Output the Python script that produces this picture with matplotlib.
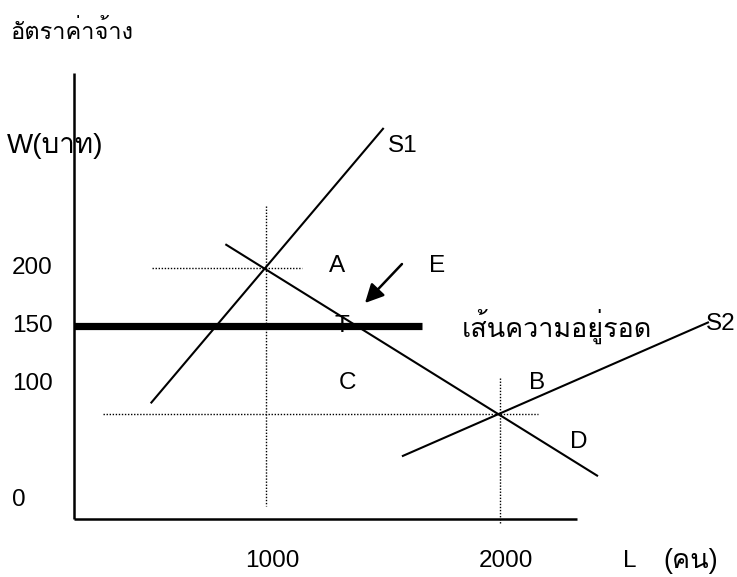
import matplotlib
matplotlib.use("Agg")
import matplotlib.pyplot as plt

# labour market diagram: wage W (baht) vs labour L (persons)
W_TICKS = [200, 150, 100, 0]
L_TICKS = [1000, 2000]

S1_L = [510, 1500]
S1_W = [84, 320]
D_L = [830, 2415]
D_W = [220, 21]
S2_L = [1585, 2889]
S2_W = [38, 153]

EQ1 = (1000, 200)   # S1 meets D
EQ2 = (2000, 74)    # S2 meets D
SURVIVAL_W = 150    # survival wage line

Y_TITLE = "อัตราค่าจ้าง"
Y_UNIT = "W(บาท)"
X_NAME = "L"
X_UNIT = "(คน)"
SURVIVAL_LABEL = "เส้นความอยู่รอด"

FONT = ["Liberation Sans", "Loma", "DejaVu Sans"]
plt.rcParams["font.family"] = FONT

fig = plt.figure(figsize=(7.37, 5.77), dpi=100)
ax = fig.add_axes([0, 0, 1, 1])
ax.set_xlim(-137, 3013)
ax.set_ylim(-66.4, 431)
ax.axis("off")

x0, y0 = 179, -16   # where the drawn axes cross
ax.plot([x0, x0], [y0, 368], color="black", lw=1.8, solid_capstyle="butt")
ax.plot([x0, 2329], [y0, y0], color="black", lw=1.8, solid_capstyle="butt")

# dotted guide lines through both equilibria
dot = dict(color="black", lw=1.0, linestyle=(0, (1, 1.2)))
ax.plot([513, 1154], [EQ1[1], EQ1[1]], **dot)
ax.plot([EQ1[0], EQ1[0]], [253, -5], **dot)
ax.plot([303, 2162], [EQ2[1], EQ2[1]], **dot)
ax.plot([EQ2[0], EQ2[0]], [105, -21], **dot)

ax.text(1325, SURVIVAL_W, "T", fontsize=17.5, ha="center", va="center", zorder=1)

# curves
ax.plot(S1_L, S1_W, color="black", lw=1.5)
ax.plot(D_L, D_W, color="black", lw=1.5)
ax.plot(S2_L, S2_W, color="black", lw=1.5)
ax.plot([x0, 1667], [SURVIVAL_W, SURVIVAL_W], color="black", lw=5.2,
        solid_capstyle="butt", zorder=3)

ax.annotate("", xy=(1423, 169.8), xytext=(1581, 203.4),
            arrowprops=dict(arrowstyle="-|>", lw=1.8, color="black",
                            mutation_scale=28, shrinkA=0, shrinkB=0))

# tick labels
for w in W_TICKS:
    ax.text(-85, w, str(w), fontsize=17.5, ha="left", va="center")
for l in L_TICKS:
    ax.text(l + 25, -52.6, str(l), fontsize=17.5, ha="center", va="center")

ax.text(-94, 403, Y_TITLE, fontsize=17, ha="left", va="center")
ax.text(-107, 305, Y_UNIT, fontsize=20, ha="left", va="center", zorder=0)
ax.text(2526, -52.6, X_NAME, fontsize=17.5, ha="left", va="center")
ax.text(2697, -52.6, X_UNIT, fontsize=19.5, ha="left", va="center")

# point / curve labels
ax.text(1585, 305, "S1", fontsize=17.5, ha="center", va="center")
ax.text(3008, 152, "S2", fontsize=17.5, ha="right", va="center")
ax.text(1303, 201.7, "A", fontsize=17.5, ha="center", va="center")
ax.text(1731, 201.7, "E", fontsize=17.5, ha="center", va="center")
ax.text(1350, 101, "C", fontsize=17.5, ha="center", va="center")
ax.text(2158, 101, "B", fontsize=17.5, ha="center", va="center")
ax.text(2338, 50, "D", fontsize=17.5, ha="center", va="center")
ax.text(1838, SURVIVAL_W, SURVIVAL_LABEL, fontsize=19.4, ha="left", va="center")

fig.savefig("out.png", dpi=100)
